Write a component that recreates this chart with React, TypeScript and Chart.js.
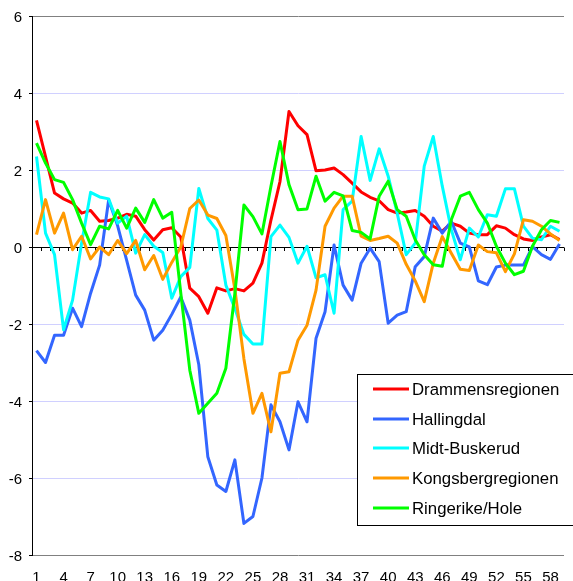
import React, { useEffect, useRef } from "react";
import { Chart, registerables } from "chart.js";

Chart.register(...registerables);

const FONT = "'Liberation Sans', Arial, Helvetica, sans-serif";

const categories = [
  "1", "2", "3", "4", "5", "6", "7", "8", "9", "10",
  "11", "12", "13", "14", "15", "16", "17", "18", "19", "20",
  "21", "22", "23", "24", "25", "26", "27", "28", "29", "30",
  "31", "32", "33", "34", "35", "36", "37", "38", "39", "40",
  "41", "42", "43", "44", "45", "46", "47", "48", "49", "50",
  "51", "52", "53", "54", "55", "56", "57", "58", "59",
];

const drammensregionen = [
  3.29, 2.35, 1.4, 1.25, 1.14, 0.88, 0.95, 0.67, 0.69, 0.75,
  0.85, 0.8, 0.45, 0.18, 0.45, 0.5, 0.26, -1.07, -1.29, -1.72,
  -1.06, -1.14, -1.08, -1.14, -0.94, -0.42, 0.7, 1.7, 3.52, 3.15,
  2.92, 1.98, 2.0, 2.05, 1.88, 1.66, 1.43, 1.29, 1.2, 0.97,
  0.88, 0.91, 0.95, 0.8, 0.54, 0.41, 0.62, 0.54, 0.36, 0.32,
  0.32, 0.55, 0.49, 0.32, 0.21, 0.17, 0.26, 0.32, 0.19,
];

const hallingdal = [
  -2.69, -3.0, -2.29, -2.29, -1.59, -2.07, -1.2, -0.47, 1.22, 0.55,
  -0.35, -1.25, -1.64, -2.42, -2.16, -1.75, -1.3, -1.9, -3.06, -5.45,
  -6.18, -6.35, -5.53, -7.18, -7.0, -6.0, -4.1, -4.54, -5.27, -4.02,
  -4.54, -2.37, -1.68, 0.05, -0.99, -1.38, -0.42, -0.03, -0.38, -1.98,
  -1.77, -1.68, -0.51, -0.25, 0.75, 0.36, 0.67, 0.1, 0.0, -0.88,
  -0.98, -0.52, -0.47, -0.47, -0.47, 0.01, -0.2, -0.32, 0.08,
];

const midtBuskerud = [
  2.35, 0.36, -0.2, -2.15, -1.38, 0.1, 1.42, 1.3, 1.25, 0.62,
  0.8, -0.16, 0.32, 0.02, -0.14, -1.33, -0.77, -0.53, 1.52, 0.74,
  0.44, -0.99, -1.6, -2.27, -2.52, -2.52, 0.27, 0.57, 0.25, -0.42,
  0.02, -0.8, -0.72, -1.72, 0.97, 1.19, 2.87, 1.73, 2.55, 1.84,
  0.88, -0.2, 0.1, 2.1, 2.87, 1.58, 0.45, -0.33, 0.49, 0.26,
  0.84, 0.8, 1.51, 1.51, 0.54, 0.23, 0.19, 0.54, 0.41,
];

const kongsbergregionen = [
  0.32, 1.23, 0.36, 0.88, -0.07, 0.28, -0.31, 0.0, -0.2, 0.17,
  -0.17, 0.17, -0.59, -0.22, -0.84, -0.4, 0.0, 1.0, 1.22, 0.83,
  0.74, 0.3, -1.1, -2.9, -4.32, -3.8, -4.8, -3.28, -3.24, -2.42,
  -2.03, -1.12, 0.54, 1.01, 1.32, 1.32, 0.28, 0.17, 0.22, 0.28,
  0.1, -0.45, -0.88, -1.42, -0.42, 0.27, -0.16, -0.58, -0.61, 0.05,
  -0.12, -0.15, -0.64, -0.18, 0.71, 0.67, 0.54, 0.34, 0.17,
];

const ringerikeHole = [
  2.7, 2.18, 1.75, 1.68, 1.23, 0.62, 0.06, 0.54, 0.47, 0.95,
  0.49, 1.01, 0.64, 1.23, 0.75, 0.9, -1.2, -3.2, -4.32, -4.06,
  -3.8, -3.15, -1.2, 1.09, 0.79, 0.34, 1.58, 2.74, 1.62, 0.97,
  0.99, 1.84, 1.19, 1.42, 1.33, 0.43, 0.38, 0.21, 1.32, 1.71,
  0.97, 0.8, 0.19, -0.2, -0.46, -0.5, 0.71, 1.32, 1.42, 0.97,
  0.62, 0.02, -0.42, -0.72, -0.63, 0.02, 0.45, 0.69, 0.64,
];

const seriesNames = [
  "Drammensregionen",
  "Hallingdal",
  "Midt-Buskerud",
  "Kongsbergregionen",
  "Ringerike/Hole",
];
const seriesColors = ["#ff0000", "#3366ff", "#00ffff", "#ff9900", "#00ff00"];
const seriesValues = [
  drammensregionen,
  hallingdal,
  midtBuskerud,
  kongsbergregionen,
  ringerikeHole,
];

const Y_MIN = -8;
const Y_MAX = 6;
const Y_STEP = 2;

const zeroAxisPlugin = {
  id: "zeroAxis",
  beforeDatasetsDraw(chart: any) {
    const { ctx, chartArea, scales } = chart;
    const y0 = Math.round(scales.y.getPixelForValue(0)) + 0.5;
    const n = chart.data.labels.length;
    const w = (chartArea.right - chartArea.left) / n;
    ctx.save();
    ctx.strokeStyle = "#000";
    ctx.lineWidth = 1;
    ctx.beginPath();
    ctx.moveTo(chartArea.left, y0);
    ctx.lineTo(chartArea.right, y0);
    for (let k = 1; k <= n; k++) {
      const x = Math.round(chartArea.left + k * w) + 0.5;
      ctx.moveTo(x, y0);
      ctx.lineTo(x, y0 + 3.5);
    }
    ctx.stroke();
    ctx.restore();
  },
};

const boxLegendPlugin = {
  id: "boxLegend",
  afterDraw(chart: any) {
    const { ctx } = chart;
    ctx.save();
    const bx = 357.5;
    const by = 374.5;
    const bw = 240;
    const bh = 151;
    ctx.fillStyle = "#fff";
    ctx.fillRect(bx, by, bw, bh);
    ctx.strokeStyle = "#000";
    ctx.lineWidth = 1;
    ctx.strokeRect(bx, by, bw, bh);
    chart.data.datasets.forEach((ds: any, i: number) => {
      const y = Math.round(389 + i * 29.7);
      ctx.strokeStyle = ds.borderColor;
      ctx.lineWidth = 3;
      ctx.lineCap = "butt";
      ctx.beginPath();
      ctx.moveTo(373, y);
      ctx.lineTo(409, y);
      ctx.stroke();
      ctx.fillStyle = "#000";
      ctx.font = `16.8px ${FONT}`;
      ctx.textBaseline = "alphabetic";
      ctx.textAlign = "left";
      ctx.fillText(ds.label, 412, y + 5.5);
    });
    ctx.restore();
  },
};

function LineChart() {
  const ref = useRef<HTMLCanvasElement | null>(null);

  useEffect(() => {
    document.body.style.margin = "0";
    const canvas = ref.current;
    if (!canvas) return;
    const datasets = seriesNames.map((name, i) => ({
      label: name,
      data: seriesValues[i],
      borderColor: seriesColors[i],
      backgroundColor: seriesColors[i],
      borderWidth: 3,
      pointRadius: 0,
      pointHoverRadius: 0,
      tension: 0,
      fill: false,
      borderJoinStyle: "round" as const,
      order: seriesNames.length - 1 - i,
    }));

    const chart = new Chart(canvas, {
      type: "line",
      data: { labels: categories, datasets },
      plugins: [zeroAxisPlugin, boxLegendPlugin],
      options: {
        animation: false,
        responsive: false,
        devicePixelRatio: 1,
        layout: { padding: { top: 16, left: 0, right: 0, bottom: 0 } },
        plugins: {
          legend: { display: false },
          tooltip: { enabled: false },
          title: { display: false },
        },
        scales: {
          x: {
            type: "category",
            offset: true,
            grid: { display: false, drawTicks: false },
            border: { display: false },
            ticks: {
              autoSkip: false,
              maxRotation: 0,
              minRotation: 0,
              padding: 13.5,
              color: "#000",
              font: { family: FONT, size: 15 },
              callback: (_v: any, i: number) => (i % 3 === 0 ? categories[i] : ""),
            },
            afterFit: (s: any) => {
              s.height = 26;
            },
          },
          y: {
            min: Y_MIN,
            max: Y_MAX,
            ticks: {
              stepSize: Y_STEP,
              color: "#000",
              padding: 7,
              labelOffset: 2,
              font: { family: FONT, size: 15 },
            },
            grid: {
              color: (c: any) => {
                const v = c.tick && c.tick.value;
                if (v === Y_MAX || v === Y_MIN) return "#808080";
                if (v === 0) return "rgba(0,0,0,0)";
                return "#d0d0ff";
              },
              tickColor: "#000",
              tickLength: 3,
              lineWidth: 1,
            },
            border: { color: "#000", width: 1 },
            afterFit: (s: any) => {
              s.width = 32;
            },
          },
        },
      },
    });
    return () => chart.destroy();
  }, []);

  return (
    <canvas
      ref={ref}
      width={573}
      height={581}
      style={{ display: "block", width: 573, height: 581 }}
    />
  );
}

export default function App() {
  return <LineChart />;
}
